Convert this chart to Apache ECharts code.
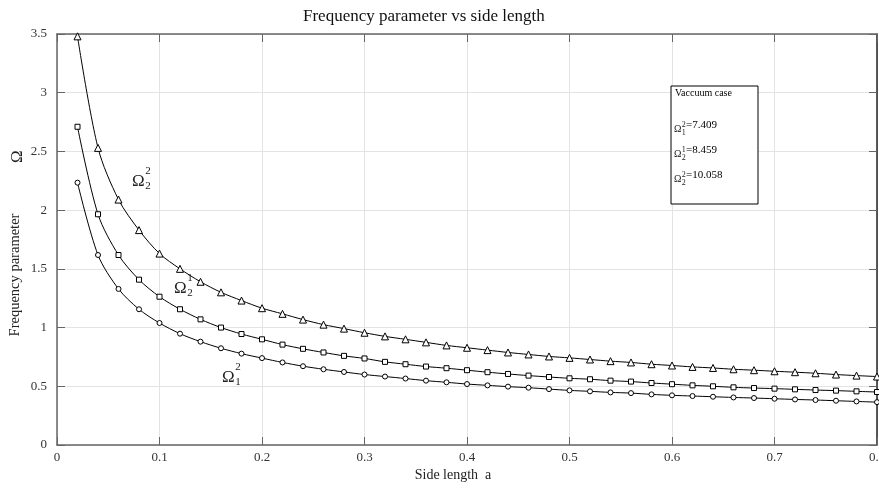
<!DOCTYPE html>
<html>
<head>
<meta charset="utf-8">
<script src="https://cdn.jsdelivr.net/npm/echarts@6/dist/echarts.min.js"></script>
<style>
  html, body { margin: 0; padding: 0; background: #fff; }
  #main { width: 879px; height: 488px; }
</style>
</head>
<body>
<div id="main"></div>
<script>
// side length a
var sideLen = [0.02, 0.04, 0.06, 0.08, 0.10, 0.12, 0.14, 0.16, 0.18, 0.20,
               0.22, 0.24, 0.26, 0.28, 0.30, 0.32, 0.34, 0.36, 0.38, 0.40,
               0.42, 0.44, 0.46, 0.48, 0.50, 0.52, 0.54, 0.56, 0.58, 0.60,
               0.62, 0.64, 0.66, 0.68, 0.70, 0.72, 0.74, 0.76, 0.78, 0.80];
// Omega_1^2 (circles)
var omega12 = [2.234, 1.618, 1.329, 1.156, 1.039, 0.948, 0.880, 0.824, 0.778, 0.740,
               0.703, 0.671, 0.645, 0.622, 0.600, 0.583, 0.566, 0.548, 0.534, 0.519,
               0.508, 0.497, 0.488, 0.476, 0.465, 0.457, 0.448, 0.442, 0.431, 0.423,
               0.417, 0.411, 0.405, 0.400, 0.394, 0.388, 0.383, 0.377, 0.371, 0.365];
// Omega_2^1 (squares)
var omega21 = [2.710, 1.965, 1.618, 1.408, 1.263, 1.156, 1.070, 1.000, 0.945, 0.900,
               0.855, 0.819, 0.788, 0.759, 0.737, 0.708, 0.688, 0.668, 0.654, 0.637,
               0.620, 0.605, 0.591, 0.579, 0.568, 0.560, 0.548, 0.540, 0.528, 0.518,
               0.508, 0.500, 0.491, 0.485, 0.480, 0.474, 0.468, 0.463, 0.457, 0.451];
// Omega_2^2 (triangles)
var omega22 = [3.480, 2.530, 2.090, 1.830, 1.630, 1.500, 1.390, 1.300, 1.230, 1.165,
               1.117, 1.068, 1.025, 0.991, 0.956, 0.925, 0.900, 0.874, 0.848, 0.828,
               0.808, 0.788, 0.771, 0.754, 0.742, 0.728, 0.714, 0.703, 0.688, 0.677,
               0.665, 0.656, 0.645, 0.637, 0.628, 0.620, 0.611, 0.600, 0.591, 0.583];
// vacuum case values
var vacLabels = [['2', '1'], ['1', '2'], ['2', '2']];
var vacValues = ['7.409', '8.459', '10.058'];

var FONT = '"Liberation Serif", "DejaVu Serif", serif';

function pairs(ys) {
    return sideLen.map(function (x, i) { return [x, ys[i]]; });
}

// Omega with stacked super/subscript
function omega(left, cy, sup, sub, size, small) {
    var off = left + size * 0.78;
    return [
        { type: 'text', left: left, top: cy - size * 0.55,
          style: { text: 'Ω', font: size + 'px ' + FONT, fill: '#222' } },
        { type: 'text', left: off, top: cy - size * 0.95,
          style: { text: sup, font: small + 'px ' + FONT, fill: '#222' } },
        { type: 'text', left: off, top: cy - small * 0.1,
          style: { text: sub, font: small + 'px ' + FONT, fill: '#222' } }
    ];
}

var chart = echarts.init(document.getElementById('main'));

var graphics = [];
graphics = graphics.concat(omega(132, 182, '2', '2', 17, 11));
graphics = graphics.concat(omega(174, 289, '1', '2', 17, 11));
graphics = graphics.concat(omega(222, 378, '2', '1', 17, 11));

// y axis title and Omega symbol (rotated)
graphics.push({
    type: 'text', x: 9, y: 163, rotation: Math.PI / 2,
    style: { text: 'Ω', font: '17px ' + FONT, fill: '#222' }
});
graphics.push({
    type: 'text', x: 8, y: 275, rotation: Math.PI / 2,
    style: { text: 'Frequency parameter', font: '14.5px ' + FONT, fill: '#222',
             align: 'center', verticalAlign: 'top' }
});
// x axis title
graphics.push({
    type: 'text', x: 453, y: 468,
    style: { text: 'Side length  a', font: '14px ' + FONT, fill: '#222',
             align: 'center', verticalAlign: 'top' }
});

// vacuum case box
graphics.push({
    type: 'rect', shape: { x: 671, y: 86, width: 87, height: 118 },
    style: { fill: '#fff', stroke: '#000', lineWidth: 1 }, z: 10
});
graphics.push({
    type: 'text', left: 675, top: 88, z: 11,
    style: { text: 'Vaccuum case', font: '10px ' + FONT, fill: '#000' }
});
vacValues.forEach(function (v, i) {
    var cy = 130 + i * 25;
    omega(674, cy, vacLabels[i][0], vacLabels[i][1], 10, 8).forEach(function (g) {
        g.z = 11; graphics.push(g);
    });
    graphics.push({
        type: 'text', left: 686, top: cy - 10, z: 11,
        style: { text: '=' + v, font: '11px ' + FONT, fill: '#000' }
    });
});

var axisLabelStyle = { fontFamily: FONT, fontSize: 13, color: '#333' };

var option = {
    animation: false,
    backgroundColor: '#fff',
    title: {
        text: 'Frequency parameter vs side length',
        left: 298, top: 3,
        textStyle: { fontFamily: FONT, fontSize: 17, fontWeight: 'normal', color: '#111' }
    },
    grid: { left: 57, right: 2, top: 34, bottom: 43, outerBoundsMode: 'none' },
    xAxis: [{
        type: 'value', min: 0, max: 0.8, interval: 0.1,
        axisLine: { lineStyle: { color: '#666', width: 1.5 } },
        axisTick: { inside: true, length: 8, lineStyle: { color: '#666' } },
        axisLabel: Object.assign({ margin: 6 }, axisLabelStyle),
        splitLine: { show: true, lineStyle: { color: '#e3e3e3' } }
    }, {
        type: 'value', min: 0, max: 0.8, interval: 0.1, position: 'top',
        axisLine: { show: true, onZero: false, lineStyle: { color: '#666', width: 1.5 } },
        axisTick: { show: true, inside: true, length: 8, lineStyle: { color: '#666' } },
        axisLabel: { show: false },
        splitLine: { show: false }
    }],
    yAxis: [{
        type: 'value', min: 0, max: 3.5, interval: 0.5,
        axisLine: { show: true, lineStyle: { color: '#666', width: 1.5 } },
        axisTick: { show: true, inside: true, length: 8, lineStyle: { color: '#666' } },
        axisLabel: Object.assign({ margin: 10 }, axisLabelStyle),
        splitLine: { show: true, lineStyle: { color: '#e3e3e3' } }
    }, {
        type: 'value', min: 0, max: 3.5, interval: 0.5, position: 'right',
        axisLine: { show: true, onZero: false, lineStyle: { color: '#222', width: 1.5 } },
        axisTick: { show: true, inside: true, length: 8, lineStyle: { color: '#666' } },
        axisLabel: { show: false },
        splitLine: { show: false }
    }],
    series: [
        {
            name: 'Omega12', type: 'line', smooth: 0.3,
            data: pairs(omega12),
            symbol: 'circle', symbolSize: 5,
            lineStyle: { color: '#000', width: 1 },
            itemStyle: { color: '#fff', borderColor: '#000', borderWidth: 1 }
        },
        {
            name: 'Omega21', type: 'line', smooth: 0.3,
            data: pairs(omega21),
            symbol: 'rect', symbolSize: 5,
            lineStyle: { color: '#000', width: 1 },
            itemStyle: { color: '#fff', borderColor: '#000', borderWidth: 1 }
        },
        {
            name: 'Omega22', type: 'line', smooth: 0.3,
            data: pairs(omega22),
            symbol: 'triangle', symbolSize: 7,
            lineStyle: { color: '#000', width: 1 },
            itemStyle: { color: '#fff', borderColor: '#000', borderWidth: 1 }
        }
    ],
    graphic: graphics
};
chart.setOption(option);
</script>
</body>
</html>
